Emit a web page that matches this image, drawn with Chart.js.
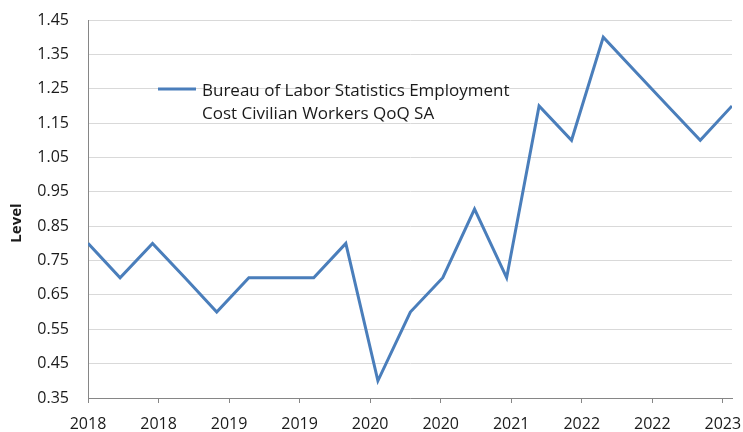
<!DOCTYPE html>
<html>
<head>
<meta charset="utf-8">
<script src="https://cdn.jsdelivr.net/npm/chart.js@4.4.1/dist/chart.umd.min.js"></script>
<style>
  html, body { margin: 0; padding: 0; background: #fff; }
  #wrap { width: 743px; height: 432px; position: relative; }
</style>
</head>
<body>
<div id="wrap"><canvas id="chart"></canvas></div>
<script>
// quarterly data, quarter end dates
const quarterDates = [
  "2018-03-31", "2018-06-30", "2018-09-30", "2018-12-31",
  "2019-03-31", "2019-06-30", "2019-09-30", "2019-12-31",
  "2020-03-31", "2020-06-30", "2020-09-30", "2020-12-31",
  "2021-03-31", "2021-06-30", "2021-09-30", "2021-12-31",
  "2022-03-31", "2022-06-30", "2022-09-30", "2022-12-31",
  "2023-03-31",
];
const levelValues = [
  0.8, 0.7, 0.8, 0.7,
  0.6, 0.7, 0.7, 0.7,
  0.8, 0.4, 0.6, 0.7,
  0.9, 0.7, 1.2, 1.1,
  1.4, 1.3, 1.2, 1.1,
  1.2,
];
const xTickLabels = ["2018", "2018", "2019", "2019", "2020", "2020", "2021", "2022", "2022", "2023"];
const xTickStepDays = 200; // date axis major unit (days)
const seriesName = ["Bureau of Labor Statistics Employment", "Cost Civilian Workers QoQ SA"];
const yTitle = "Level";

const DAY = 86400000;
const startTime = Date.parse(quarterDates[0]);
const toDays = (d) => Math.round((Date.parse(d) - startTime) / DAY);
const points = quarterDates.map((d, i) => ({ x: toDays(d), y: levelValues[i] }));
const lastDay = toDays(quarterDates[quarterDates.length - 1]);

const FONT = "'Open Sans', 'Noto Sans', sans-serif";
const TEXT = "#1a1a1a";
const LINE = "#4a7ebb";

// legend sits inside the plot, text wraps on two lines
// the axis title sits a bit below the plot middle, like in excel
const extraText = {
  id: "extraText",
  afterDraw(chart) {
    const { ctx, chartArea } = chart;
    const x0 = chartArea.left + 70;
    const y0 = chartArea.top + 69;
    ctx.save();
    ctx.strokeStyle = LINE;
    ctx.lineWidth = 3;
    ctx.beginPath();
    ctx.moveTo(x0, y0);
    ctx.lineTo(x0 + 38, y0);
    ctx.stroke();
    ctx.fillStyle = TEXT;
    ctx.font = "17px " + FONT;
    ctx.textBaseline = "middle";
    seriesName.forEach((line, i) => {
      ctx.fillText(line, x0 + 44, y0 + 2 + i * 23);
    });

    ctx.translate(17, chartArea.top + 203);
    ctx.rotate(-Math.PI / 2);
    ctx.font = "bold 15px " + FONT;
    ctx.textAlign = "center";
    ctx.fillText(yTitle, 0, 0);
    ctx.restore();
  },
};

new Chart(document.getElementById("chart"), {
  type: "line",
  data: {
    datasets: [
      {
        label: seriesName.join(" "),
        data: points,
        borderColor: LINE,
        borderWidth: 3,
        pointRadius: 0,
        tension: 0,
        fill: false,
      },
    ],
  },
  options: {
    responsive: true,
    maintainAspectRatio: false,
    animation: false,
    layout: { padding: { top: 20, right: 11, left: 0, bottom: 0 } },
    plugins: {
      legend: { display: false },
      tooltip: { enabled: false },
    },
    scales: {
      x: {
        type: "linear",
        min: 0,
        max: lastDay,
        afterBuildTicks(scale) {
          const ticks = [];
          for (let v = 0; v <= lastDay; v += xTickStepDays) ticks.push({ value: v });
          scale.ticks = ticks;
        },
        afterFit(scale) {
          scale.height = 34;
          scale.paddingLeft = 0;
          scale.paddingRight = 0;
        },
        border: { color: "#868686", width: 1 },
        grid: {
          drawOnChartArea: false,
          drawTicks: true,
          tickLength: 5,
          tickColor: "#868686",
        },
        ticks: {
          autoSkip: false,
          maxRotation: 0,
          padding: 12,
          color: TEXT,
          font: { family: FONT, size: 16 },
          callback: (v, i) => xTickLabels[i],
        },
      },
      y: {
        min: 0.35,
        max: 1.45,
        afterFit(scale) {
          scale.width = 88;
          scale.paddingTop = 0;
          scale.paddingBottom = 0;
        },
        border: { color: "#868686", width: 1 },
        grid: {
          color: "#d9d9d9",
          lineWidth: 1,
          drawTicks: false,
        },
        ticks: {
          stepSize: 0.1,
          padding: 19,
          color: TEXT,
          font: { family: FONT, size: 16 },
          callback: (v) => v.toFixed(2),
        },
      },
    },
  },
  plugins: [extraText],
});
</script>
</body>
</html>
